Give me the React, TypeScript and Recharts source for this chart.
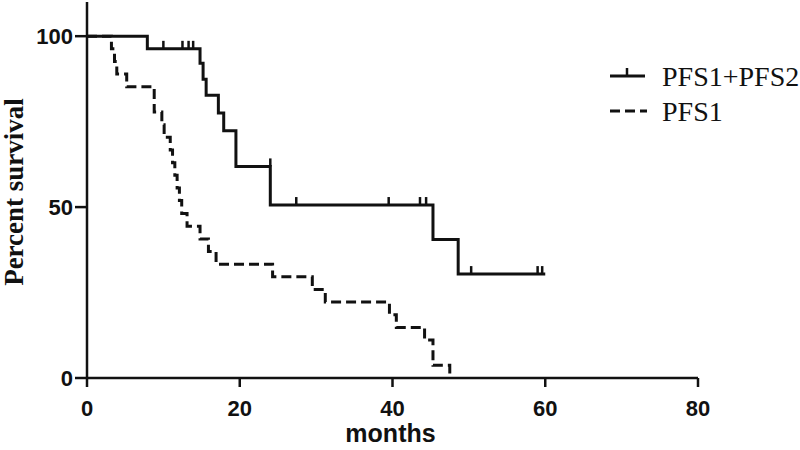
import React from "react";
import {
  ComposedChart,
  Line,
  Scatter,
  XAxis,
  YAxis,
  Label,
} from "recharts";

// Kaplan-Meier steps
const pfs12Months = [0, 7.9, 14.8, 15.2, 15.6, 17.2, 17.9, 19.5, 24.0, 45.3, 48.6, 60.0];
const pfs12Survival = [100, 96.3, 92.1, 87.4, 82.7, 77.5, 72.3, 61.9, 50.6, 40.5, 30.4, 30.4];

const pfs1Months = [
  0, 3.2, 3.6, 3.9, 5.2, 8.8, 9.8, 10.1, 10.9, 11.2, 11.5, 11.8, 12.1, 12.4,
  13.1, 14.8, 15.9, 16.9, 24.3, 29.5, 31.2, 39.6, 40.5, 44.2, 45.3, 47.5,
];
const pfs1Survival = [
  100, 96.3, 92.6, 88.9, 85.2, 77.8, 74.1, 70.4, 66.7, 63.0, 59.3, 55.6, 51.9, 48.1,
  44.4, 40.7, 37.0, 33.3, 29.6, 25.9, 22.2, 18.5, 14.8, 11.1, 3.7, 0,
];

// censored observations (tick marks) on PFS1+PFS2
const censorMonths = [10.0, 12.5, 13.3, 13.9, 24.0, 27.4, 39.5, 43.6, 44.4, 50.3, 59.0, 59.6];
const censorSurvival = [96.3, 96.3, 96.3, 96.3, 61.9, 50.6, 50.6, 50.6, 50.6, 30.4, 30.4, 30.4];

const xTicks = [0, 20, 40, 60, 80];
const yTicks = [0, 50, 100];

const pfs12Data = pfs12Months.map((m, i) => ({ m, s: pfs12Survival[i] }));
const pfs1Data = pfs1Months.map((m, i) => ({ m, s: pfs1Survival[i] }));
const censorData = censorMonths.map((m, i) => ({ m, s: censorSurvival[i] }));

const INK = "#111";
const SANS = "'Liberation Sans', Arial, sans-serif";
const SERIF = "'Liberation Serif', 'Times New Roman', serif";

const CensorTick = (props: any) => {
  const { cx, cy } = props;
  if (cx == null || cy == null) return null;
  return <line x1={cx} x2={cx} y1={cy} y2={cy - 8} stroke={INK} strokeWidth={2.5} />;
};

const XTick = ({ x, y, payload }: any) => (
  <text x={x} y={y + 27} textAnchor="middle" fontFamily={SANS} fontWeight="bold" fontSize={22} fill={INK}>
    {payload.value}
  </text>
);

const YTick = ({ x, y, payload }: any) => (
  <text x={x} y={y} dy="0.36em" textAnchor="end" fontFamily={SANS} fontWeight="bold" fontSize={22} fill={INK}>
    {payload.value}
  </text>
);

// legend drawn by hand so it takes no room from the plot
const KmLegend = () => (
  <svg width={200} height={80} style={{ position: "absolute", left: 600, top: 55 }}>
    <line x1={10} x2={45} y1={21} y2={21} stroke={INK} strokeWidth={3} />
    <line x1={27} x2={27} y1={21} y2={13} stroke={INK} strokeWidth={2.5} />
    <text x={62} y={31} fontFamily={SERIF} fontSize={28} fill={INK}>PFS1+PFS2</text>
    <line x1={10} x2={47} y1={56} y2={56} stroke={INK} strokeWidth={3} strokeDasharray="10 5" />
    <text x={62} y={66} fontFamily={SERIF} fontSize={28} fill={INK}>PFS1</text>
  </svg>
);

export default function App() {
  return (
    <div style={{ position: "absolute", left: 0, top: 0, width: 800, height: 450, background: "#fff" }}>
      <ComposedChart width={800} height={450} margin={{ top: 2, right: 102, bottom: 0, left: 0 }}>
        <XAxis
          type="number"
          dataKey="m"
          domain={[0, 80]}
          ticks={xTicks}
          height={72}
          tickSize={9}
          stroke={INK}
          strokeWidth={2.5}
          tick={<XTick />}
          tickLine={{ stroke: INK, strokeWidth: 2.5 }}
          allowDataOverflow
        >
          <Label
            content={({ viewBox }: any) => (
              <text
                x={viewBox.x + viewBox.width / 2 - 2}
                y={442}
                textAnchor="middle"
                fontFamily={SANS}
                fontWeight="bold"
                fontSize={25}
                fill={INK}
              >
                months
              </text>
            )}
          />
        </XAxis>
        <YAxis
          type="number"
          dataKey="s"
          domain={[0, 110]}
          ticks={yTicks}
          width={87}
          tickSize={12}
          stroke={INK}
          strokeWidth={2.5}
          tick={<YTick />}
          tickLine={{ stroke: INK, strokeWidth: 2.5 }}
          allowDataOverflow
        >
          <Label
            content={({ viewBox }: any) => (
              <text
                transform={`translate(14, ${viewBox.y + viewBox.height / 2 + 2}) rotate(-90)`}
                textAnchor="middle"
                dominantBaseline="central"
                fontFamily={SERIF}
                fontWeight="bold"
                fontSize={27}
                fill={INK}
              >
                Percent survival
              </text>
            )}
          />
        </YAxis>
        <Line
          data={pfs12Data}
          dataKey="s"
          type="stepAfter"
          stroke={INK}
          strokeWidth={3}
          dot={false}
          isAnimationActive={false}
        />
        <Line
          data={pfs1Data}
          dataKey="s"
          type="stepAfter"
          stroke={INK}
          strokeWidth={3}
          strokeDasharray="10 5"
          dot={false}
          isAnimationActive={false}
        />
        <Scatter data={censorData} dataKey="s" shape={<CensorTick />} isAnimationActive={false} />
      </ComposedChart>
      <KmLegend />
    </div>
  );
}
